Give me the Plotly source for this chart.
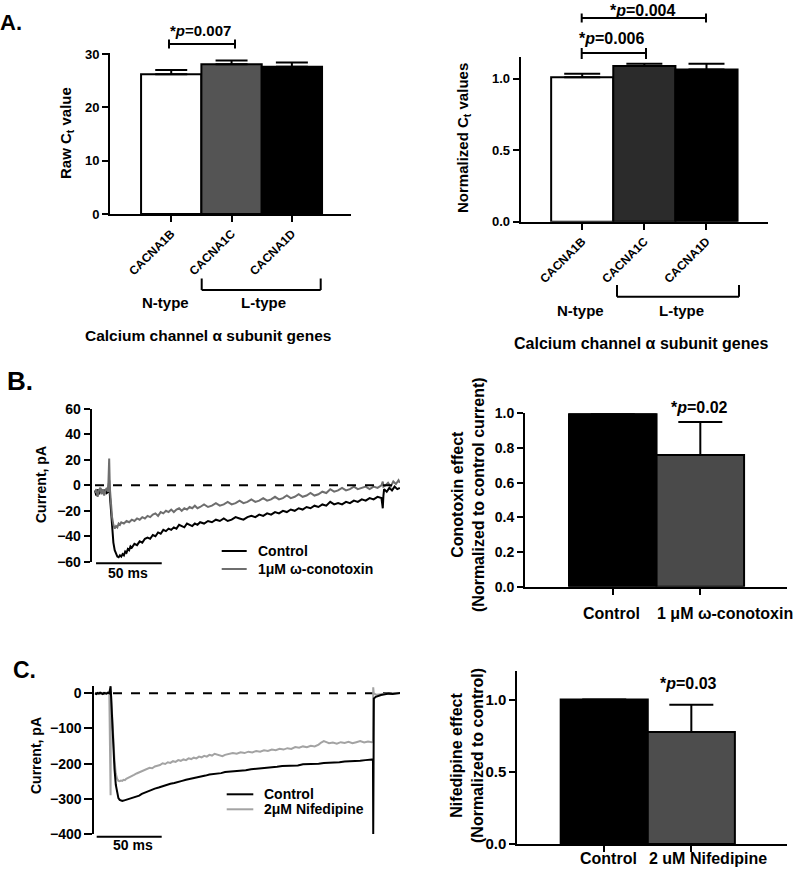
import plotly.graph_objects as go

W, H = 800, 869
FONT = "Liberation Sans, Arial, sans-serif"


def px(x):
    return x / W


def py(y):
    return 1 - y / H


# ---------------- data ----------------
genes = ["CACNA1B", "CACNA1C", "CACNA1D"]
raw_ct = [26.2, 28.1, 27.6]
raw_ct_sem = [0.8, 0.7, 0.8]
norm_ct = [1.01, 1.09, 1.065]
norm_ct_sem = [0.025, 0.015, 0.04]
a_left_colors = ["white", "#545454", "black"]
a_right_colors = ["white", "#2b2b2b", "black"]

cono_groups = ["Control", "1 μM ω-conotoxin"]
cono_effect = [1.0, 0.76]
cono_sem = [0.0, 0.19]
cono_colors = ["black", "#4a4a4a"]

nif_groups = ["Control", "2 uM Nifedipine"]
nif_effect = [1.0, 0.775]
nif_sem = [0.0, 0.19]
nif_colors = ["black", "#4d4d4d"]

# Panel B traces (time ms, current pA)
b_ctrl_t = [0, 1, 2, 3, 4, 5, 6, 7, 8, 9, 10, 10.8, 11.2,
            12, 13, 14, 15, 16, 17, 18, 19, 20, 21, 22, 23, 24, 25, 26, 27, 28,
            30, 32, 34, 36, 38, 40, 42, 44, 46, 48, 50, 52, 54, 56, 58, 60, 62, 64, 66, 68, 70, 72, 74, 76, 78, 80,
            83, 86, 89, 92, 95, 98, 101, 104, 107, 110, 113, 116, 119, 122, 125, 128, 131, 134, 137, 140,
            143, 146, 149, 152, 155, 158, 161, 164, 167, 170, 173, 176, 179, 182, 185, 188, 191, 194, 197, 200,
            203, 206, 209, 212, 215, 218, 219, 219.5, 220, 222, 224, 226, 228, 230, 232]
b_ctrl_i = [-4, -8, -3, -7, -2, -6, -4, -7, -3, -6, -5, 4, -6,
            -20, -35, -45, -51, -54, -56, -56.5, -55, -56, -54, -55, -52, -53, -50, -51, -48, -49,
            -46, -47, -44, -45, -42, -41, -42, -39, -40, -37, -38, -35, -36, -34, -35, -33, -34, -31, -32, -33, -30, -31, -32, -30, -31, -29,
            -30, -28, -29, -27, -28, -26, -28, -27, -25, -26, -27, -25, -24, -25, -23, -24, -22, -23, -21, -22,
            -20, -21, -19, -20, -18, -19, -17, -18, -16, -17, -15, -16, -13, -15, -14, -15, -13, -14, -12, -13,
            -11, -12, -10, -11, -9, -10, -18, -8, -3, -5, -2, -4, -1, -3, -2]

b_cono_t = [0, 1, 2, 3, 4, 5, 6, 7, 8, 9, 10, 10.8, 11.3,
            12, 13, 14, 15, 16, 17, 18, 19, 20,
            22, 24, 26, 28, 30, 32, 34, 36, 38, 40, 42, 44, 46, 48, 50, 52, 54, 56, 58, 60, 62, 64, 66, 68, 70, 72, 74, 76, 78, 80,
            83, 86, 89, 92, 95, 98, 101, 104, 107, 110, 113, 116, 119, 122, 125, 128, 131, 134, 137, 140,
            143, 146, 149, 152, 155, 158, 161, 164, 167, 170, 173, 176, 179, 182, 185, 188, 191, 194, 197, 200,
            203, 206, 209, 212, 215, 218, 219, 219.5, 221, 223, 225, 227, 229, 231, 232]
b_cono_i = [-6, -3, -9, -4, -2, -7, -3, -8, -4, -2, -5, 21, -2,
            -15, -25, -31, -34, -32, -33, -30, -31, -29,
            -30, -28, -29, -27, -28, -26, -27, -25, -26, -24, -25, -23, -22, -24, -21, -22, -20, -21, -19, -21, -19, -18, -20, -18, -19, -17, -18, -16, -18, -17,
            -15, -17, -16, -14, -16, -15, -13, -15, -14, -12, -14, -13, -11, -13, -12, -10, -12, -11, -9, -11,
            -10, -8, -10, -9, -7, -9, -8, -6, -8, -7, -5, -6, -3, -5, -4, -2, -4, -3, -1, -3,
            -2, -1, -3, -1, -2, 0, 3, -1, 0, 2, -1, 3, 1, 4, 2]

# Panel C traces (time ms, current pA)
c_ctrl_t = [0, 1, 2, 3, 4, 5, 6, 7, 8, 9, 10, 11, 12,
            13, 14, 15, 16, 17, 18, 19, 20, 21, 22, 23, 24,
            26, 28, 30, 32, 34, 36, 38, 40,
            43, 46, 49, 52, 55, 58, 61, 64, 67, 70, 73, 76, 79, 82, 85, 88, 91, 94, 97, 100,
            104, 108, 112, 116, 120, 124, 128, 132, 136, 140, 144, 148, 152, 156, 160, 164, 168, 172, 176, 180,
            184, 188, 192, 196, 200, 204, 208, 212,
            213.8, 214, 214.5, 216, 218, 220, 223, 226, 229, 232, 235]
c_ctrl_i = [0, -2, 1, -1, 2, 0, -2, 1, 0, -1, 2, 0, 20,
            -60, -150, -215, -260, -285, -298, -303, -305, -306, -305, -304, -303,
            -301, -299, -296, -293, -291, -286, -283, -279,
            -276, -271, -268, -264, -261, -257, -255, -251, -249, -246, -244, -240, -239, -236, -234, -231, -230, -228, -227, -224,
            -223, -222, -219, -219, -216, -215, -212, -212, -210, -209, -207, -207, -205, -205, -202, -202, -200, -200, -198, -198,
            -196, -196, -194, -194, -192, -192, -190, -189,
            -188, -400, -15, -10, -7, -5, -3, -1, -2, 0, 1]

c_nif_t = [0, 1, 2, 3, 4, 5, 6, 7, 8, 9, 10, 11, 12, 12.2,
           13, 14, 15, 16, 17, 18, 19, 20, 21, 22, 23, 24,
           26, 28, 30, 32, 34, 36, 38, 40, 42, 44, 46, 48, 50, 52, 54, 56, 58, 60, 62, 64, 66, 68, 70, 72, 74, 76, 78, 80,
           82, 84, 86, 88, 90, 92, 94, 96, 98, 100,
           103, 106, 109, 112, 115, 118, 121, 124, 127, 130, 133, 136, 139, 142, 145, 148, 151, 154, 157, 160,
           163, 166, 169, 172, 174, 176, 178, 180,
           183, 186, 189, 192, 195, 198, 201, 204, 207, 210, 213,
           213.8, 214, 214.4, 216, 220, 225, 230, 235]
c_nif_i = [1, -1, 0, 2, -1, 1, 0, -2, 1, 0, 2, 0, -290, 5,
           -50, -130, -190, -228, -243, -249, -250, -248, -249, -246, -247, -243,
           -240, -236, -232, -228, -225, -222, -218, -214, -212, -213, -208, -206, -204, -199, -201, -196, -198, -193, -195, -190, -192, -188, -190, -185, -187, -183, -185, -180,
           -182, -178, -180, -175, -177, -172, -174, -176, -179, -175,
           -173, -170, -172, -168, -170, -166, -168, -164, -166, -162, -164, -160, -162, -158, -160, -156, -158, -153, -155, -151,
           -153, -149, -151, -146, -140, -136, -139, -142,
           -140, -143, -139, -141, -138, -142, -139, -136, -140, -137, -139,
           -138, 17, 0, -4, -2, 0, 1, 0]

# ---------------- figure ----------------
fig = go.Figure()

err_common = dict(type="data", symmetric=False, color="black", thickness=2)

fig.add_trace(go.Bar(
    x=list(range(len(genes))), y=raw_ct, width=1,
    marker=dict(color=a_left_colors, line=dict(color="black", width=2)),
    error_y=dict(array=raw_ct_sem, arrayminus=[0] * len(genes), width=16, **err_common),
    xaxis="x", yaxis="y", showlegend=False, cliponaxis=False))

fig.add_trace(go.Bar(
    x=list(range(len(genes))), y=norm_ct, width=1,
    marker=dict(color=a_right_colors, line=dict(color="black", width=2)),
    error_y=dict(array=norm_ct_sem, arrayminus=[0] * len(genes), width=18, **err_common),
    xaxis="x2", yaxis="y2", showlegend=False, cliponaxis=False))

fig.add_trace(go.Scatter(x=b_ctrl_t, y=b_ctrl_i, mode="lines", line=dict(color="black", width=2),
                         xaxis="x3", yaxis="y3", showlegend=False, cliponaxis=False))
fig.add_trace(go.Scatter(x=b_cono_t, y=b_cono_i, mode="lines", line=dict(color="#6e6e6e", width=2),
                         xaxis="x3", yaxis="y3", showlegend=False, cliponaxis=False))

fig.add_trace(go.Bar(
    x=list(range(len(cono_groups))), y=cono_effect, width=1,
    marker=dict(color=cono_colors, line=dict(color="black", width=2)),
    error_y=dict(array=cono_sem, arrayminus=[0] * len(cono_groups), width=22, **err_common),
    xaxis="x4", yaxis="y4", showlegend=False, cliponaxis=False))

fig.add_trace(go.Scatter(x=c_nif_t, y=c_nif_i, mode="lines", line=dict(color="#a3a3a3", width=2),
                         xaxis="x5", yaxis="y5", showlegend=False, cliponaxis=False))
fig.add_trace(go.Scatter(x=c_ctrl_t, y=c_ctrl_i, mode="lines", line=dict(color="black", width=2),
                         xaxis="x5", yaxis="y5", showlegend=False, cliponaxis=False))

fig.add_trace(go.Bar(
    x=list(range(len(nif_groups))), y=nif_effect, width=1,
    marker=dict(color=nif_colors, line=dict(color="black", width=2)),
    error_y=dict(array=nif_sem, arrayminus=[0] * len(nif_groups), width=22, **err_common),
    xaxis="x6", yaxis="y6", showlegend=False, cliponaxis=False))


def axis(size=13, **kw):
    d = dict(showline=True, linecolor="black", linewidth=2, ticks="outside", tickcolor="black",
             tickwidth=2, ticklen=6, showgrid=False, zeroline=False, fixedrange=True, automargin=False,
             tickfont=dict(family=FONT, size=size, color="black", weight="bold"))
    d.update(kw)
    return d


def hidden_axis(**kw):
    d = dict(visible=False, fixedrange=True, automargin=False, showgrid=False, zeroline=False)
    d.update(kw)
    return d


layout_axes = dict(
    xaxis=axis(12, domain=[px(110), px(351)], range=[-1.015, 2.98], anchor="y",
               tickvals=list(range(len(genes))), ticktext=genes, tickangle=-45),
    yaxis=axis(13, domain=[py(214), py(53)], range=[0, 30.2], anchor="x", tickvals=[0, 10, 20, 30]),
    xaxis2=axis(12, domain=[px(520.7), px(768)], range=[-0.99, 2.99], anchor="y2",
                tickvals=list(range(len(genes))), ticktext=genes, tickangle=-45),
    yaxis2=axis(13, domain=[py(221.7), py(57.3)], range=[0, 1.15], anchor="x2",
                tickvals=[0, 0.5, 1.0], tickformat=".1f"),
    xaxis3=hidden_axis(domain=[px(91.7), px(400)], range=[-2.5, 232.1], anchor="y3"),
    yaxis3=axis(14, domain=[py(561.7), py(409)], range=[-60, 60], anchor="x3",
                tickvals=[-60, -40, -20, 0, 20, 40, 60]),
    xaxis4=axis(14, domain=[px(525), px(786.7)], range=[-1.003, 1.987], anchor="y4",
                tickvals=list(range(len(cono_groups))), showticklabels=False),
    yaxis4=axis(14, domain=[py(586.7), py(413.3)], range=[0, 1.0], anchor="x4",
                tickvals=[0, 0.2, 0.4, 0.6, 0.8, 1.0], tickformat=".1f"),
    xaxis5=hidden_axis(domain=[px(94.3), px(400)], range=[-0.54, 234.6], anchor="y5"),
    yaxis5=axis(14, domain=[py(834), py(686)], range=[-400, 20.7], anchor="x5",
                tickvals=[-400, -300, -200, -100, 0], ticklen=8),
    xaxis6=axis(15, domain=[px(517.3), px(786.7)], range=[-0.998, 2.095], anchor="y6",
                tickvals=list(range(len(nif_groups))), showticklabels=False),
    yaxis6=axis(15, domain=[py(844), py(670.7)], range=[0, 1.2], anchor="x6",
                tickvals=[0, 0.5, 1.0], tickformat=".1f"),
)


def ann(x, y, text, size=14, xanchor="center", yanchor="middle", angle=0):
    return dict(x=px(x), y=py(y), xref="paper", yref="paper", text=text, showarrow=False,
                xanchor=xanchor, yanchor=yanchor, textangle=angle,
                font=dict(family=FONT, size=size, color="black", weight="bold"))


def seg(x0, y0, x1, y1, color="black", width=2, dash=None):
    line = dict(color=color, width=width)
    if dash:
        line["dash"] = dash
    return dict(type="line", xref="paper", yref="paper", x0=px(x0), y0=py(y0), x1=px(x1), y1=py(y1),
                line=line, layer="above")


annotations = [
    ann(-2, 22, "A.", 22, xanchor="left"),
    ann(5, 381, "B.", 26, xanchor="left"),
    ann(11, 670, "C.", 23, xanchor="left"),
    # panel A left
    ann(67, 133, "Raw C<sub>t</sub> value", 15, angle=-90),
    ann(201, 30, "*<i>p</i>=0.007", 15),
    ann(165, 302, "N-type", 15),
    ann(263, 302, "L-type", 15),
    ann(207.5, 336, "Calcium channel α subunit genes", 15.5),
    # panel A right
    ann(463, 138, "Normalized C<sub>t</sub> values", 15, angle=-90),
    ann(611.7, 39, "*<i>p</i>=0.006", 16),
    ann(643, 0, "*<i>p</i>=0.004", 16, yanchor="top"),
    ann(580, 310, "N-type", 15),
    ann(681.7, 310, "L-type", 15),
    ann(640.8, 343, "Calcium channel α subunit genes", 16),
    # panel B left
    ann(41, 485, "Current, pA", 14, angle=-90),
    ann(128, 573, "50 ms", 14),
    ann(255.7, 551, "Control", 14, xanchor="left"),
    ann(255.7, 569, "1μM ω-conotoxin", 14, xanchor="left"),
    # panel B right
    ann(468, 495, "Conotoxin effect<br>(Normalized to control current)", 16, angle=-90),
    ann(699, 407, "*<i>p</i>=0.02", 16),
    ann(611.7, 613, "Control", 16),
    ann(655, 613, "1 μM ω-conotoxin", 16, xanchor="left"),
    # panel C left
    ann(36, 756, "Current, pA", 14, angle=-90),
    ann(133, 845, "50 ms", 14),
    ann(261.7, 794, "Control", 14, xanchor="left"),
    ann(261.7, 809, "2μM Nifedipine", 14, xanchor="left"),
    # panel C right
    ann(467, 756, "Nifedipine effect<br>(Normalized to control)", 16, angle=-90),
    ann(688.3, 683, "*<i>p</i>=0.03", 16),
    ann(608.3, 858, "Control", 16),
    ann(708.3, 858, "2 uM Nifedipine", 16),
]

shapes = [
    # A left significance bracket
    seg(169, 44, 235, 44), seg(169, 39.5, 169, 48.5), seg(235, 39.5, 235, 48.5),
    # A left L-type bracket
    seg(201.7, 290, 320.7, 290), seg(201.7, 278.5, 201.7, 290), seg(320.7, 278.5, 320.7, 290),
    # A right significance brackets
    seg(581.7, 53, 646, 53), seg(581.7, 48, 581.7, 59), seg(646, 48, 646, 59),
    seg(581.7, 18, 706, 18), seg(581.7, 13.5, 581.7, 22.5), seg(706, 13.5, 706, 22.5),
    # A right L-type bracket
    seg(617, 296.7, 739, 296.7), seg(617, 285, 617, 296.7), seg(739, 285, 739, 296.7),
    # B left legend lines
    seg(221.7, 551, 246.7, 551, "black"), seg(221.7, 569, 246.7, 569, "#6e6e6e"),
    # C left legend lines
    seg(226.7, 794.3, 253.3, 794.3, "black"), seg(226.7, 809.3, 253.3, 809.3, "#a3a3a3"),
    # zero lines
    dict(type="line", xref="x3", yref="y3", x0=0, x1=232, y0=0, y1=0,
         line=dict(color="black", width=2, dash="dash"), layer="above"),
    dict(type="line", xref="x5", yref="y5", x0=0, x1=234, y0=0, y1=0,
         line=dict(color="black", width=2, dash="dash"), layer="below"),
    # scale bars (50 ms)
    dict(type="line", xref="x3", yref="paper", x0=0.8, x1=50.8, y0=py(563.3), y1=py(563.3),
         line=dict(color="black", width=2)),
    dict(type="line", xref="x5", yref="paper", x0=1.3, x1=51.3, y0=py(836.7), y1=py(836.7),
         line=dict(color="black", width=2)),
]

fig.update_layout(
    template="none",
    width=W, height=H, autosize=False,
    margin=dict(l=0, r=0, t=0, b=0, pad=0, autoexpand=False),
    paper_bgcolor="white", plot_bgcolor="white",
    font=dict(family=FONT, color="black", size=13, weight="bold"),
    annotations=annotations, shapes=shapes,
    **layout_axes,
)

fig.write_html("out.html", config={"displayModeBar": False},
               post_script="document.body.style.margin='0px';")
